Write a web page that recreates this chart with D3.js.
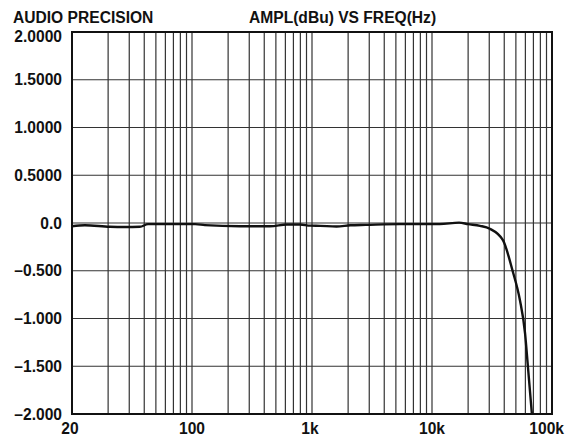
<!DOCTYPE html>
<html><head><meta charset="utf-8">
<script src="https://cdn.jsdelivr.net/npm/d3@7"></script>
<style>body{margin:0;background:#fff}svg{display:block}text{font-family:"Liberation Sans",Arial,sans-serif;font-weight:bold;fill:#111}</style>
</head><body><svg id="c" width="577" height="440"></svg>
<script>
const freqs = [10, 12.8, 20.7, 27.6, 36.8, 43, 65.6, 106, 128, 251, 447, 618, 794, 965, 1170, 1600, 2090, 2800, 5400, 11600, 16800, 20000, 25100, 30300, 39000, 47000, 54000, 59600, 63000, 68000];
const ampl  = [-0.034, -0.024, -0.04, -0.042, -0.04, -0.012, -0.012, -0.012, -0.022, -0.034, -0.034, -0.016, -0.015, -0.028, -0.03, -0.036, -0.024, -0.02, -0.012, -0.012, 0.004, -0.012, -0.03, -0.06, -0.18, -0.503, -0.806, -1.152, -1.505, -2.0];
const yTicks = [2.0, 1.5, 1.0, 0.5, 0.0, -0.5, -1.0, -1.5, -2.0];
const yTickLabels = ["2.0000", "1.5000", "1.0000", "0.5000", "0.0", "\u20130.500", "\u20131.000", "\u20131.500", "\u20132.000"];
const xTicks = [10, 100, 1000, 10000, 100000];
const xTickLabels = ["20", "100", "1k", "10k", "100k"];
const title1 = "AUDIO PRECISION";
const title2 = "AMPL(dBu) VS FREQ(Hz)";

const svg = d3.select("#c");
const L = 72, R = 552, T = 32, B = 414;
const FS = 15.6;
const x = d3.scaleLog().domain([10, 100000]).range([L, R]);
const y = d3.scaleLinear().domain([-2, 2]).range([B, T]);

const vgrid = [];
for (let d = 10; d < 100000; d *= 10) for (let k = 1; k <= 9; k++) vgrid.push(d * k);
svg.append("g").selectAll("line").data(vgrid.filter(v => v > 10)).join("line")
  .attr("x1", d => x(d)).attr("x2", d => x(d)).attr("y1", T).attr("y2", B)
  .attr("stroke", "#333").attr("stroke-width", 1.2);
svg.append("g").selectAll("line").data(yTicks.slice(1, -1)).join("line")
  .attr("x1", L).attr("x2", R).attr("y1", d => y(d)).attr("y2", d => y(d))
  .attr("stroke", "#333").attr("stroke-width", 1.2);
svg.append("rect").attr("x", L).attr("y", T).attr("width", R - L).attr("height", B - T)
  .attr("fill", "none").attr("stroke", "#111").attr("stroke-width", 2);

const line = d3.line().x((d, i) => x(freqs[i])).y(d => y(d)).curve(d3.curveMonotoneX);
svg.append("path").datum(ampl).attr("d", line).attr("fill", "none")
  .attr("stroke", "#111").attr("stroke-width", 2.4).attr("stroke-linejoin", "round");

svg.append("g").selectAll("text").data(yTicks).join("text")
  .attr("x", 62).attr("y", d => Math.max(y(d), 36)).attr("dy", "0.36em")
  .attr("text-anchor", "end").attr("font-size", FS).text((d, i) => yTickLabels[i]);
svg.append("g").selectAll("text").data(xTicks).join("text")
  .attr("x", (d, i) => i === xTicks.length - 1 ? 564 : x(d) - (i === 0 ? 2 : (i === 2 ? 2 : 0)))
  .attr("y", 434).attr("text-anchor", (d, i) => i === xTicks.length - 1 ? "end" : "middle")
  .attr("font-size", FS).text((d, i) => xTickLabels[i]);
svg.append("text").attr("x", 13).attr("y", 23).attr("font-size", FS).text(title1);
svg.append("text").attr("x", 249).attr("y", 23).attr("font-size", FS).text(title2);
</script></body></html>
